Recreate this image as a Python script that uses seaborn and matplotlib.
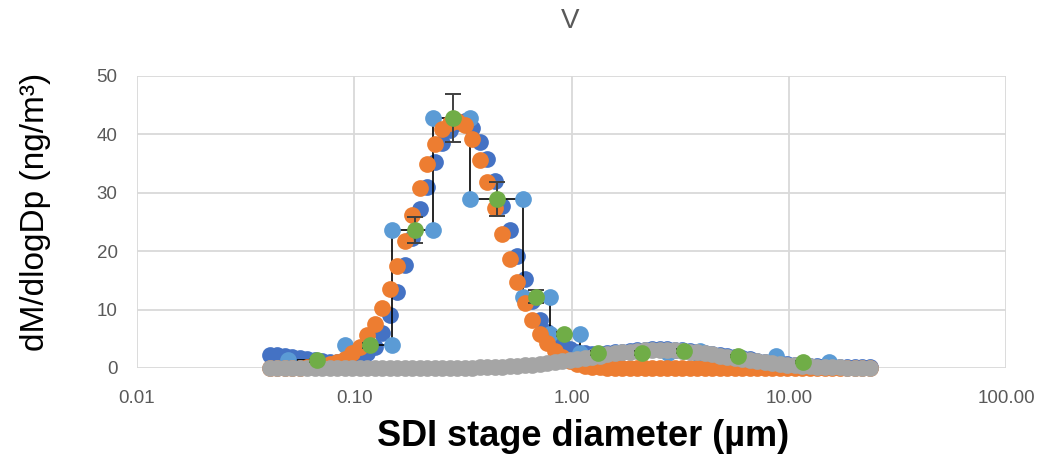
import numpy as np
import pandas as pd
import matplotlib
matplotlib.use("Agg")
import matplotlib.pyplot as plt
import seaborn as sns
from matplotlib.ticker import FixedLocator, FuncFormatter, NullLocator

# ---------------- data ----------------
# dense fitted-distribution grid (evenly spaced in log, 81 points, 0.041 .. 23.6 um)
grid_x = np.geomspace(0.0409, 23.6, 81)

total_fit = [2.3, 2.15, 2.0, 1.85, 1.7, 1.55, 1.4, 1.25, 1.1, 1.0,
             1.1, 1.3, 1.8, 2.5, 3.6, 6.0, 9.1, 13.0, 17.6, 22.2,
             27.2, 31.0, 35.3, 38.5, 40.8, 42.0, 42.3, 41.1, 38.7, 35.8,
             32.0, 27.8, 23.6, 19.2, 15.2, 11.5, 8.3, 6.2, 4.9, 3.9,
             3.3, 2.8, 2.5, 2.4, 2.45, 2.55, 2.68, 2.8, 2.94, 3.06,
             3.15, 3.2, 3.22, 3.2, 3.15, 3.06, 2.94, 2.8, 2.64, 2.45,
             2.25, 2.05, 1.85, 1.65, 1.46, 1.27, 1.11, 0.95, 0.81, 0.69,
             0.58, 0.49, 0.41, 0.35, 0.30, 0.26, 0.22, 0.19, 0.17, 0.15,
             0.13]

fine_fit = [0.0, 0.0, 0.0, 0.0, 0.05, 0.1, 0.2, 0.35, 0.6, 1.0,
            1.6, 2.5, 3.6, 5.6, 7.6, 10.2, 13.6, 17.5, 21.8, 26.2,
            30.8, 34.9, 38.4, 40.9, 42.0, 42.3, 41.6, 39.2, 35.7, 31.8,
            27.4, 22.9, 18.6, 14.7, 11.1, 8.3, 5.8, 4.2, 2.9, 1.9,
            1.2, 0.7, 0.4, 0.2, 0.1, 0.05, 0.0, 0.0, 0.0, 0.0,
            0.0, 0.0, 0.0, 0.0, 0.0, 0.0, 0.0, 0.0, 0.0, 0.0,
            0.0, 0.0, 0.0, 0.0, 0.0, 0.0, 0.0, 0.0, 0.0, 0.0,
            0.0, 0.0, 0.0, 0.0, 0.0, 0.0, 0.0, 0.0, 0.0, 0.0,
            0.0]

coarse_fit = [0.0, 0.0, 0.0, 0.0, 0.0, 0.0, 0.0, 0.0, 0.0, 0.0,
              0.0, 0.0, 0.0, 0.0, 0.0, 0.0, 0.0, 0.0, 0.0, 0.0,
              0.01, 0.01, 0.015, 0.02, 0.03, 0.04, 0.06, 0.08, 0.10, 0.14,
              0.18, 0.23, 0.29, 0.37, 0.45, 0.56, 0.68, 0.82, 0.98, 1.14,
              1.33, 1.52, 1.72, 1.92, 2.12, 2.32, 2.51, 2.67, 2.82, 2.94,
              3.03, 3.08, 3.10, 3.08, 3.03, 2.94, 2.82, 2.67, 2.51, 2.32,
              2.12, 1.92, 1.72, 1.52, 1.33, 1.14, 0.98, 0.82, 0.68, 0.56,
              0.45, 0.37, 0.29, 0.23, 0.18, 0.14, 0.11, 0.08, 0.06, 0.05,
              0.03]

# SDI stages
stage_lower = [0.0495, 0.0906, 0.149, 0.230, 0.340, 0.597, 0.796, 1.09, 1.60, 2.78, 3.89, 8.74]
stage_upper = [0.0906, 0.149, 0.230, 0.340, 0.597, 0.796, 1.09, 1.60, 2.78, 3.89, 8.74, 15.4]
stage_mid = [0.0673, 0.118, 0.190, 0.284, 0.454, 0.686, 0.92, 1.32, 2.11, 3.29, 5.83, 11.6]
stage_value = [1.3, 3.9, 23.6, 42.8, 28.9, 12.2, 5.8, 2.6, 2.6, 2.9, 2.1, 1.0]
stage_err = [0.2, 0.4, 2.2, 4.1, 2.9, 1.1, 0.4, 0.3, 0.3, 0.3, 0.2, 0.2]

x_ticks = [0.01, 0.1, 1, 10, 100]
y_ticks = [0, 10, 20, 30, 40, 50]

# ---------------- tables ----------------
fit_df = pd.DataFrame({"x": grid_x, "total": total_fit, "fine": fine_fit, "coarse": coarse_fit})
step_x, step_y = [], []
for lo, hi, v in zip(stage_lower, stage_upper, stage_value):
    step_x += [lo, hi]
    step_y += [v, v]
step_df = pd.DataFrame({"x": step_x, "y": step_y})
stage_df = pd.DataFrame({"x": stage_mid, "y": stage_value, "err": stage_err})

# ---------------- figure ----------------
sns.set_theme(style="white")
plt.rcParams['font.family'] = ['Liberation Sans', 'DejaVu Sans']

fig = plt.figure(figsize=(10.4, 4.59), dpi=100)
ax = fig.add_axes([137 / 1040, 91 / 459, 869 / 1040, 292 / 459])

S = 145
mk = dict(s=S, linewidth=0, ax=ax, clip_on=False)
sns.scatterplot(data=fit_df, x="x", y="total", color="#4472C4", zorder=2, **mk)
sns.lineplot(data=step_df, x="x", y="y", sort=False, estimator=None, color="black",
             linewidth=1.2, ax=ax, zorder=3)
sns.scatterplot(data=step_df, x="x", y="y", color="#5B9BD5", zorder=3.5, **mk)
sns.scatterplot(data=fit_df, x="x", y="fine", color="#ED7D31", zorder=4, **mk)
sns.scatterplot(data=fit_df, x="x", y="coarse", color="#A5A5A5", zorder=5, **mk)
ax.errorbar(stage_df["x"], stage_df["y"], yerr=stage_df["err"], fmt="none", ecolor="#404040",
            elinewidth=1.4, capsize=6, capthick=1.4, zorder=6)
sns.scatterplot(data=stage_df, x="x", y="y", color="#70AD47", zorder=7, **mk)

ax.set_xscale("log")
ax.set_xlim(0.01, 100)
ax.set_ylim(0, 50)
ax.xaxis.set_major_locator(FixedLocator(x_ticks))
ax.xaxis.set_minor_locator(NullLocator())
ax.xaxis.set_major_formatter(FuncFormatter(lambda v, p: f"{v:.2f}"))
ax.yaxis.set_major_locator(FixedLocator(y_ticks))
ax.grid(True, which="major", color="#D9D9D9", linewidth=1.3)
ax.set_axisbelow(True)
for sp in ax.spines.values():
    sp.set_visible(False)
ax.tick_params(axis="both", length=0, labelsize=13.5, labelcolor="#595959")
ax.tick_params(axis="y", pad=14)
ax.tick_params(axis="x", pad=16)
ax.set_xlabel("")
ax.set_ylabel("")

fig.text(570 / 1040, 1 - 21 / 459, "V", ha="center", va="center", fontsize=20, color="#595959")
fig.text(36 / 1040, 1 - 212 / 459, "dM/dlogDp (ng/m³)", rotation=90, ha="center", va="center",
         fontsize=24, color="black")
fig.text(583 / 1040, 1 - 437 / 459, "SDI stage diameter (µm)", ha="center", va="center",
         fontsize=26, fontweight="bold", color="black")

fig.savefig("out.png", dpi=100)
